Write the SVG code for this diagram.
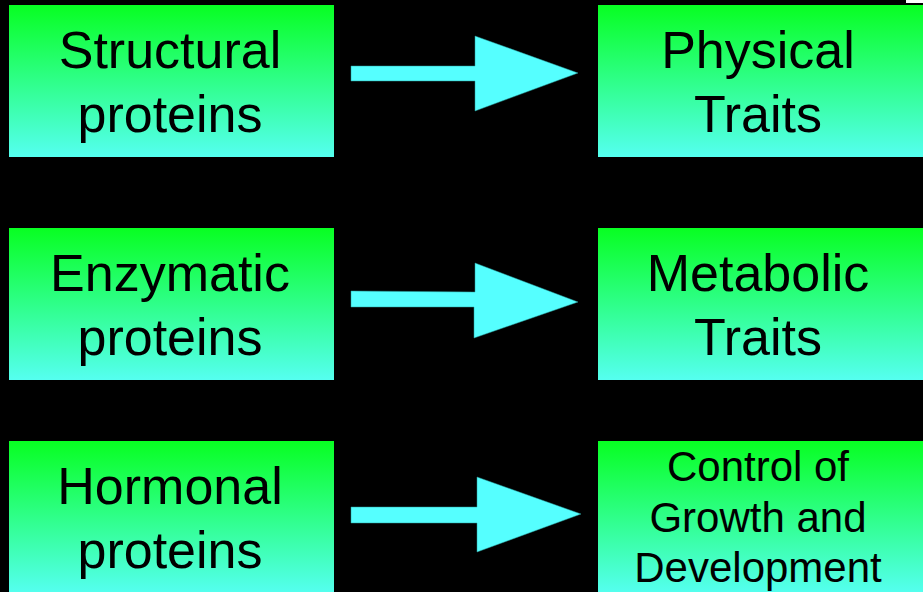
<svg xmlns="http://www.w3.org/2000/svg" width="923" height="592" viewBox="0 0 923 592">
<defs>
<linearGradient id="g" x1="0" y1="0" x2="0" y2="1">
<stop offset="0" stop-color="#08FF22"/>
<stop offset="1" stop-color="#55FFF0"/>
</linearGradient>
<style>
.box{fill:url(#g);}
.t{font-family:"Liberation Sans",Arial,sans-serif;font-size:52px;fill:#000;text-anchor:middle;}
.s{font-size:42px;}
.arr{fill:#55FFFF;stroke:#2a9a9a;stroke-width:0.5;}
</style>
</defs>
<rect x="0" y="0" width="923" height="592" fill="#000"/>
<rect x="906" y="0" width="17" height="3" fill="#fff"/>
<g id="structural">
<rect class="box" x="9" y="5" width="325" height="152"/>
<text class="t" x="170" y="68">Structural</text>
<text class="t" x="170" y="132">proteins</text>
</g>
<g id="enzymatic">
<rect class="box" x="9" y="228" width="325" height="152"/>
<text class="t" x="170" y="291">Enzymatic</text>
<text class="t" x="170" y="355">proteins</text>
</g>
<g id="hormonal">
<rect class="box" x="9" y="441" width="325" height="152"/>
<text class="t" x="170" y="504">Hormonal</text>
<text class="t" x="170" y="568">proteins</text>
</g>
<g id="physical">
<rect class="box" x="598" y="5" width="330" height="152"/>
<text class="t" x="758" y="68">Physical</text>
<text class="t" x="758" y="132">Traits</text>
</g>
<g id="metabolic">
<rect class="box" x="598" y="228" width="330" height="152"/>
<text class="t" x="758" y="291">Metabolic</text>
<text class="t" x="758" y="355">Traits</text>
</g>
<g id="control">
<rect class="box" x="598" y="441" width="330" height="152"/>
<text class="t s" x="758" y="481">Control of</text>
<text class="t s" x="758" y="532">Growth and</text>
<text class="t s" x="758" y="582">Development</text>
</g>
<g id="connectors">
<polygon class="arr" points="351,66 475,66 475,36 578,73 475,111 475,81 351,81"/>
<polygon class="arr" points="351,291 475,292 475,263 578,302 474,338 474,307 351,307"/>
<polygon class="arr" points="351,507 477,507 477,477 581,514 477,552 477,523 351,523"/>
</g>
</svg>
